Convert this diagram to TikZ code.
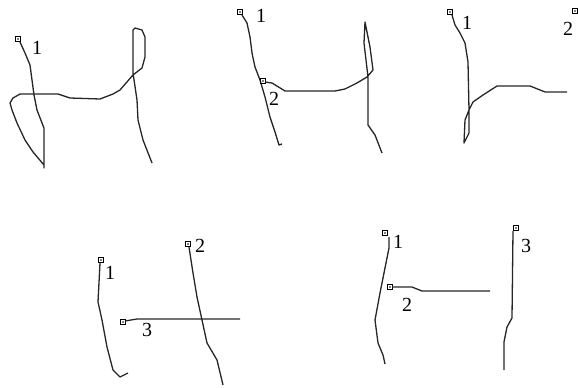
\documentclass[tikz,border=0pt]{standalone}
\usepackage{fontspec}
\setmainfont{Liberation Serif}
\tikzset{
  pen/.style={line width=1.3pt,black!85,line join=round},
  startbox/.style={draw,line width=1.1pt,minimum size=5.5pt,inner sep=0pt,
    path picture={\fill (path picture bounding box.center) circle (0.8pt);}},
  num/.style={font=\fontsize{20}{20}\selectfont,inner sep=0pt}
}
\begin{document}
\begin{tikzpicture}[x=1pt,y=-1pt]
\useasboundingbox (0,0) rectangle (578,388);
% panel 1: one stroke
\node[startbox] (p1s1) at (18,39) {};
\node[num] (p1n1) at (37,48) {1};
\draw[pen] (20,42)--(25,53)--(30,65)--(32,80)--(34,95)--(37,110)--(42,123)--(44,128)--(44,168)
  --(44,165)--(33,152)--(25,140)--(17,123)--(12,110)--(10,103)--(13,98)--(20,94)--(33,94)--(58,94)
  --(70,98)--(100,99)--(113,94)--(120,90)--(133,75)--(142,68)--(145,57)--(145,37)--(142,30)
  --(135,28)--(133,30)--(133,73)--(137,100)--(138,120)--(143,140)--(152,163);
% panel 2: two strokes
\node[startbox] (p2s1) at (240,12) {};
\node[num] (p2n1) at (261,16) {1};
\draw[pen] (242,15)--(247,23)--(250,37)--(252,53)--(255,67)--(260,80)--(265,97)--(270,117)
  --(275,132)--(279,145)--(282,144);
\node[startbox] (p2s2) at (263,81) {};
\node[num] (p2n2) at (274,99) {2};
\draw[pen] (265,82)--(272,83)--(285,91)--(335,91)--(345,89)--(357,83)--(367,77)--(373,70)
  --(370,47)--(365,22)--(364,43)--(368,77)--(368,125)--(375,135)--(382,153);
% panel 3: stroke 1 and start of stroke 2
\node[startbox] (p3s1) at (450,12) {};
\node[num] (p3n1) at (467,23) {1};
\draw[pen] (452,15)--(455,25)--(460,33)--(465,43)--(468,62)--(469,110)--(465,120)--(464,143)
  --(469,133)--(469,110)--(473,102)--(483,95)--(497,86)--(530,86)--(545,92)--(567,92);
\node[startbox] (p3s2) at (575,11) {};
\node[num] (p3n2) at (568,29) {2};
% panel 4: three strokes
\node[startbox] (p4s1) at (101,260) {};
\node[num] (p4n1) at (110,273) {1};
\draw[pen] (100,263)--(98,302)--(102,320)--(107,347)--(113,370)--(120,377)--(128,373);
\node[startbox] (p4s2) at (188,244) {};
\node[num] (p4n2) at (200,246) {2};
\draw[pen] (189,247)--(193,273)--(197,297)--(202,320)--(207,343)--(217,360)--(223,385);
\node[startbox] (p4s3) at (123,322) {};
\node[num] (p4n3) at (147,330) {3};
\draw[pen] (125,321)--(137,319)--(240,319);
% panel 5: three strokes
\node[startbox] (p5s1) at (385,233) {};
\node[num] (p5n1) at (398,242) {1};
\draw[pen] (389,237)--(389,248)--(385,268)--(380,293)--(375,320)--(378,343)--(383,355)--(385,364);
\node[startbox] (p5s2) at (390,287) {};
\node[num] (p5n2) at (407,305) {2};
\draw[pen] (392,287)--(412,287)--(422,291)--(490,291);
\node[startbox] (p5s3) at (516,228) {};
\node[num] (p5n3) at (526,246) {3};
\draw[pen] (513,231)--(512,318)--(507,327)--(504,342)--(504,370);
\end{tikzpicture}
\end{document}
